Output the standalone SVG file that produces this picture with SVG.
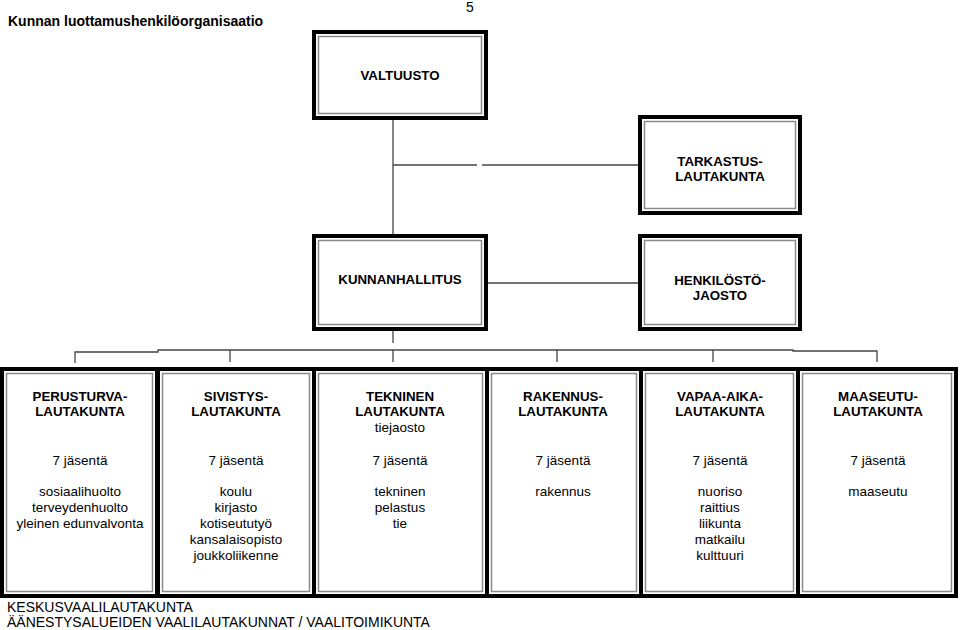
<svg xmlns="http://www.w3.org/2000/svg" width="960" height="630" viewBox="0 0 960 630">
<style>
.ob{fill:#fff;stroke:#000;stroke-width:4}
.ib{fill:none;stroke:#8a8a8a;stroke-width:1.5}
.c{fill:none;stroke:#444;stroke-width:1.3}
.h{font-family:"Liberation Sans",Arial,sans-serif;font-weight:bold;font-size:13.3px;fill:#000;text-anchor:middle}
.t{font-family:"Liberation Sans",Arial,sans-serif;font-size:13.5px;fill:#000;text-anchor:middle}
.b{font-family:"Liberation Sans",Arial,sans-serif;font-size:14px;fill:#000}
</style>
<rect width="960" height="630" fill="#fff"/>
<text class="b" x="8" y="26" font-weight="bold">Kunnan luottamushenkilöorganisaatio</text>
<text class="b" x="466" y="12" font-size="13">5</text>

<g id="connectors">
<polyline class="c" points="393,120 393,234"/>
<line class="c" x1="393" y1="165" x2="477" y2="165"/>
<line class="c" x1="482" y1="165" x2="640" y2="165"/>
<line class="c" x1="488" y1="283" x2="640" y2="283"/>
<line class="c" x1="393" y1="331" x2="393" y2="343"/>
<polyline class="c" points="75,363 75,352 158,352 158,350 793,350 793,351 877,351 877,362"/>
<line class="c" x1="230" y1="350" x2="230" y2="362"/>
<line class="c" x1="393" y1="350" x2="393" y2="362"/>
<line class="c" x1="557" y1="350" x2="557" y2="362"/>
<line class="c" x1="713" y1="350" x2="713" y2="362"/>
</g>

<g id="valtuusto">
<rect class="ob" x="314" y="32" width="172" height="86"/>
<rect class="ib" x="318.5" y="36.5" width="163" height="77"/>
<text class="h" x="400" y="80">VALTUUSTO</text>
</g>

<g id="tarkastuslautakunta">
<rect class="ob" x="640" y="117" width="160" height="96"/>
<rect class="ib" x="644.5" y="121.5" width="151" height="87"/>
<text class="h" x="720" y="166">TARKASTUS-</text>
<text class="h" x="720" y="181">LAUTAKUNTA</text>
</g>

<g id="kunnanhallitus">
<rect class="ob" x="314" y="236" width="172" height="93"/>
<rect class="ib" x="318.5" y="240.5" width="163" height="84"/>
<text class="h" x="400" y="284">KUNNANHALLITUS</text>
</g>

<g id="henkilostojaosto">
<rect class="ob" x="640" y="236" width="160" height="93"/>
<rect class="ib" x="644.5" y="240.5" width="151" height="84"/>
<text class="h" x="720" y="285">HENKILÖSTÖ-</text>
<text class="h" x="720" y="300">JAOSTO</text>
</g>

<g id="perusturvalautakunta">
<rect class="ob" x="2" y="369" width="155" height="227"/>
<rect class="ib" x="6.5" y="373.5" width="146" height="218"/>
<text class="h" x="80" y="401">PERUSTURVA-</text>
<text class="h" x="80" y="416">LAUTAKUNTA</text>
<text class="t" x="80" y="465">7 jäsentä</text>
<text class="t" x="80" y="496">sosiaalihuolto</text>
<text class="t" x="80" y="512">terveydenhuolto</text>
<text class="t" x="80" y="528">yleinen edunvalvonta</text>
</g>

<g id="sivistyslautakunta">
<rect class="ob" x="158" y="369" width="156" height="227"/>
<rect class="ib" x="162.5" y="373.5" width="147" height="218"/>
<text class="h" x="236" y="401">SIVISTYS-</text>
<text class="h" x="236" y="416">LAUTAKUNTA</text>
<text class="t" x="236" y="465">7 jäsentä</text>
<text class="t" x="236" y="496">koulu</text>
<text class="t" x="236" y="512">kirjasto</text>
<text class="t" x="236" y="528">kotiseututyö</text>
<text class="t" x="236" y="544">kansalaisopisto</text>
<text class="t" x="236" y="560">joukkoliikenne</text>
</g>

<g id="tekninenlautakunta">
<rect class="ob" x="314" y="369" width="173" height="227"/>
<rect class="ib" x="318.5" y="373.5" width="164" height="218"/>
<text class="h" x="400" y="401">TEKNINEN</text>
<text class="h" x="400" y="416">LAUTAKUNTA</text>
<text class="t" x="400" y="432">tiejaosto</text>
<text class="t" x="400" y="465">7 jäsentä</text>
<text class="t" x="400" y="496">tekninen</text>
<text class="t" x="400" y="512">pelastus</text>
<text class="t" x="400" y="528">tie</text>
</g>

<g id="rakennuslautakunta">
<rect class="ob" x="487" y="369" width="154" height="227"/>
<rect class="ib" x="491.5" y="373.5" width="145" height="218"/>
<text class="h" x="563" y="401">RAKENNUS-</text>
<text class="h" x="563" y="416">LAUTAKUNTA</text>
<text class="t" x="563" y="465">7 jäsentä</text>
<text class="t" x="563" y="496">rakennus</text>
</g>

<g id="vapaa-aikalautakunta">
<rect class="ob" x="641" y="369" width="157" height="227"/>
<rect class="ib" x="645.5" y="373.5" width="148" height="218"/>
<text class="h" x="720" y="401">VAPAA-AIKA-</text>
<text class="h" x="720" y="416">LAUTAKUNTA</text>
<text class="t" x="720" y="465">7 jäsentä</text>
<text class="t" x="720" y="496">nuoriso</text>
<text class="t" x="720" y="512">raittius</text>
<text class="t" x="720" y="528">liikunta</text>
<text class="t" x="720" y="544">matkailu</text>
<text class="t" x="720" y="560">kulttuuri</text>
</g>

<g id="maaseutulautakunta">
<rect class="ob" x="798" y="369" width="158" height="227"/>
<rect class="ib" x="802.5" y="373.5" width="149" height="218"/>
<text class="h" x="878" y="401">MAASEUTU-</text>
<text class="h" x="878" y="416">LAUTAKUNTA</text>
<text class="t" x="878" y="465">7 jäsentä</text>
<text class="t" x="878" y="496">maaseutu</text>
</g>

<text class="b" x="7" y="612">KESKUSVAALILAUTAKUNTA</text>
<text class="b" x="7" y="627">ÄÄNESTYSALUEIDEN VAALILAUTAKUNNAT / VAALITOIMIKUNTA</text>
</svg>
